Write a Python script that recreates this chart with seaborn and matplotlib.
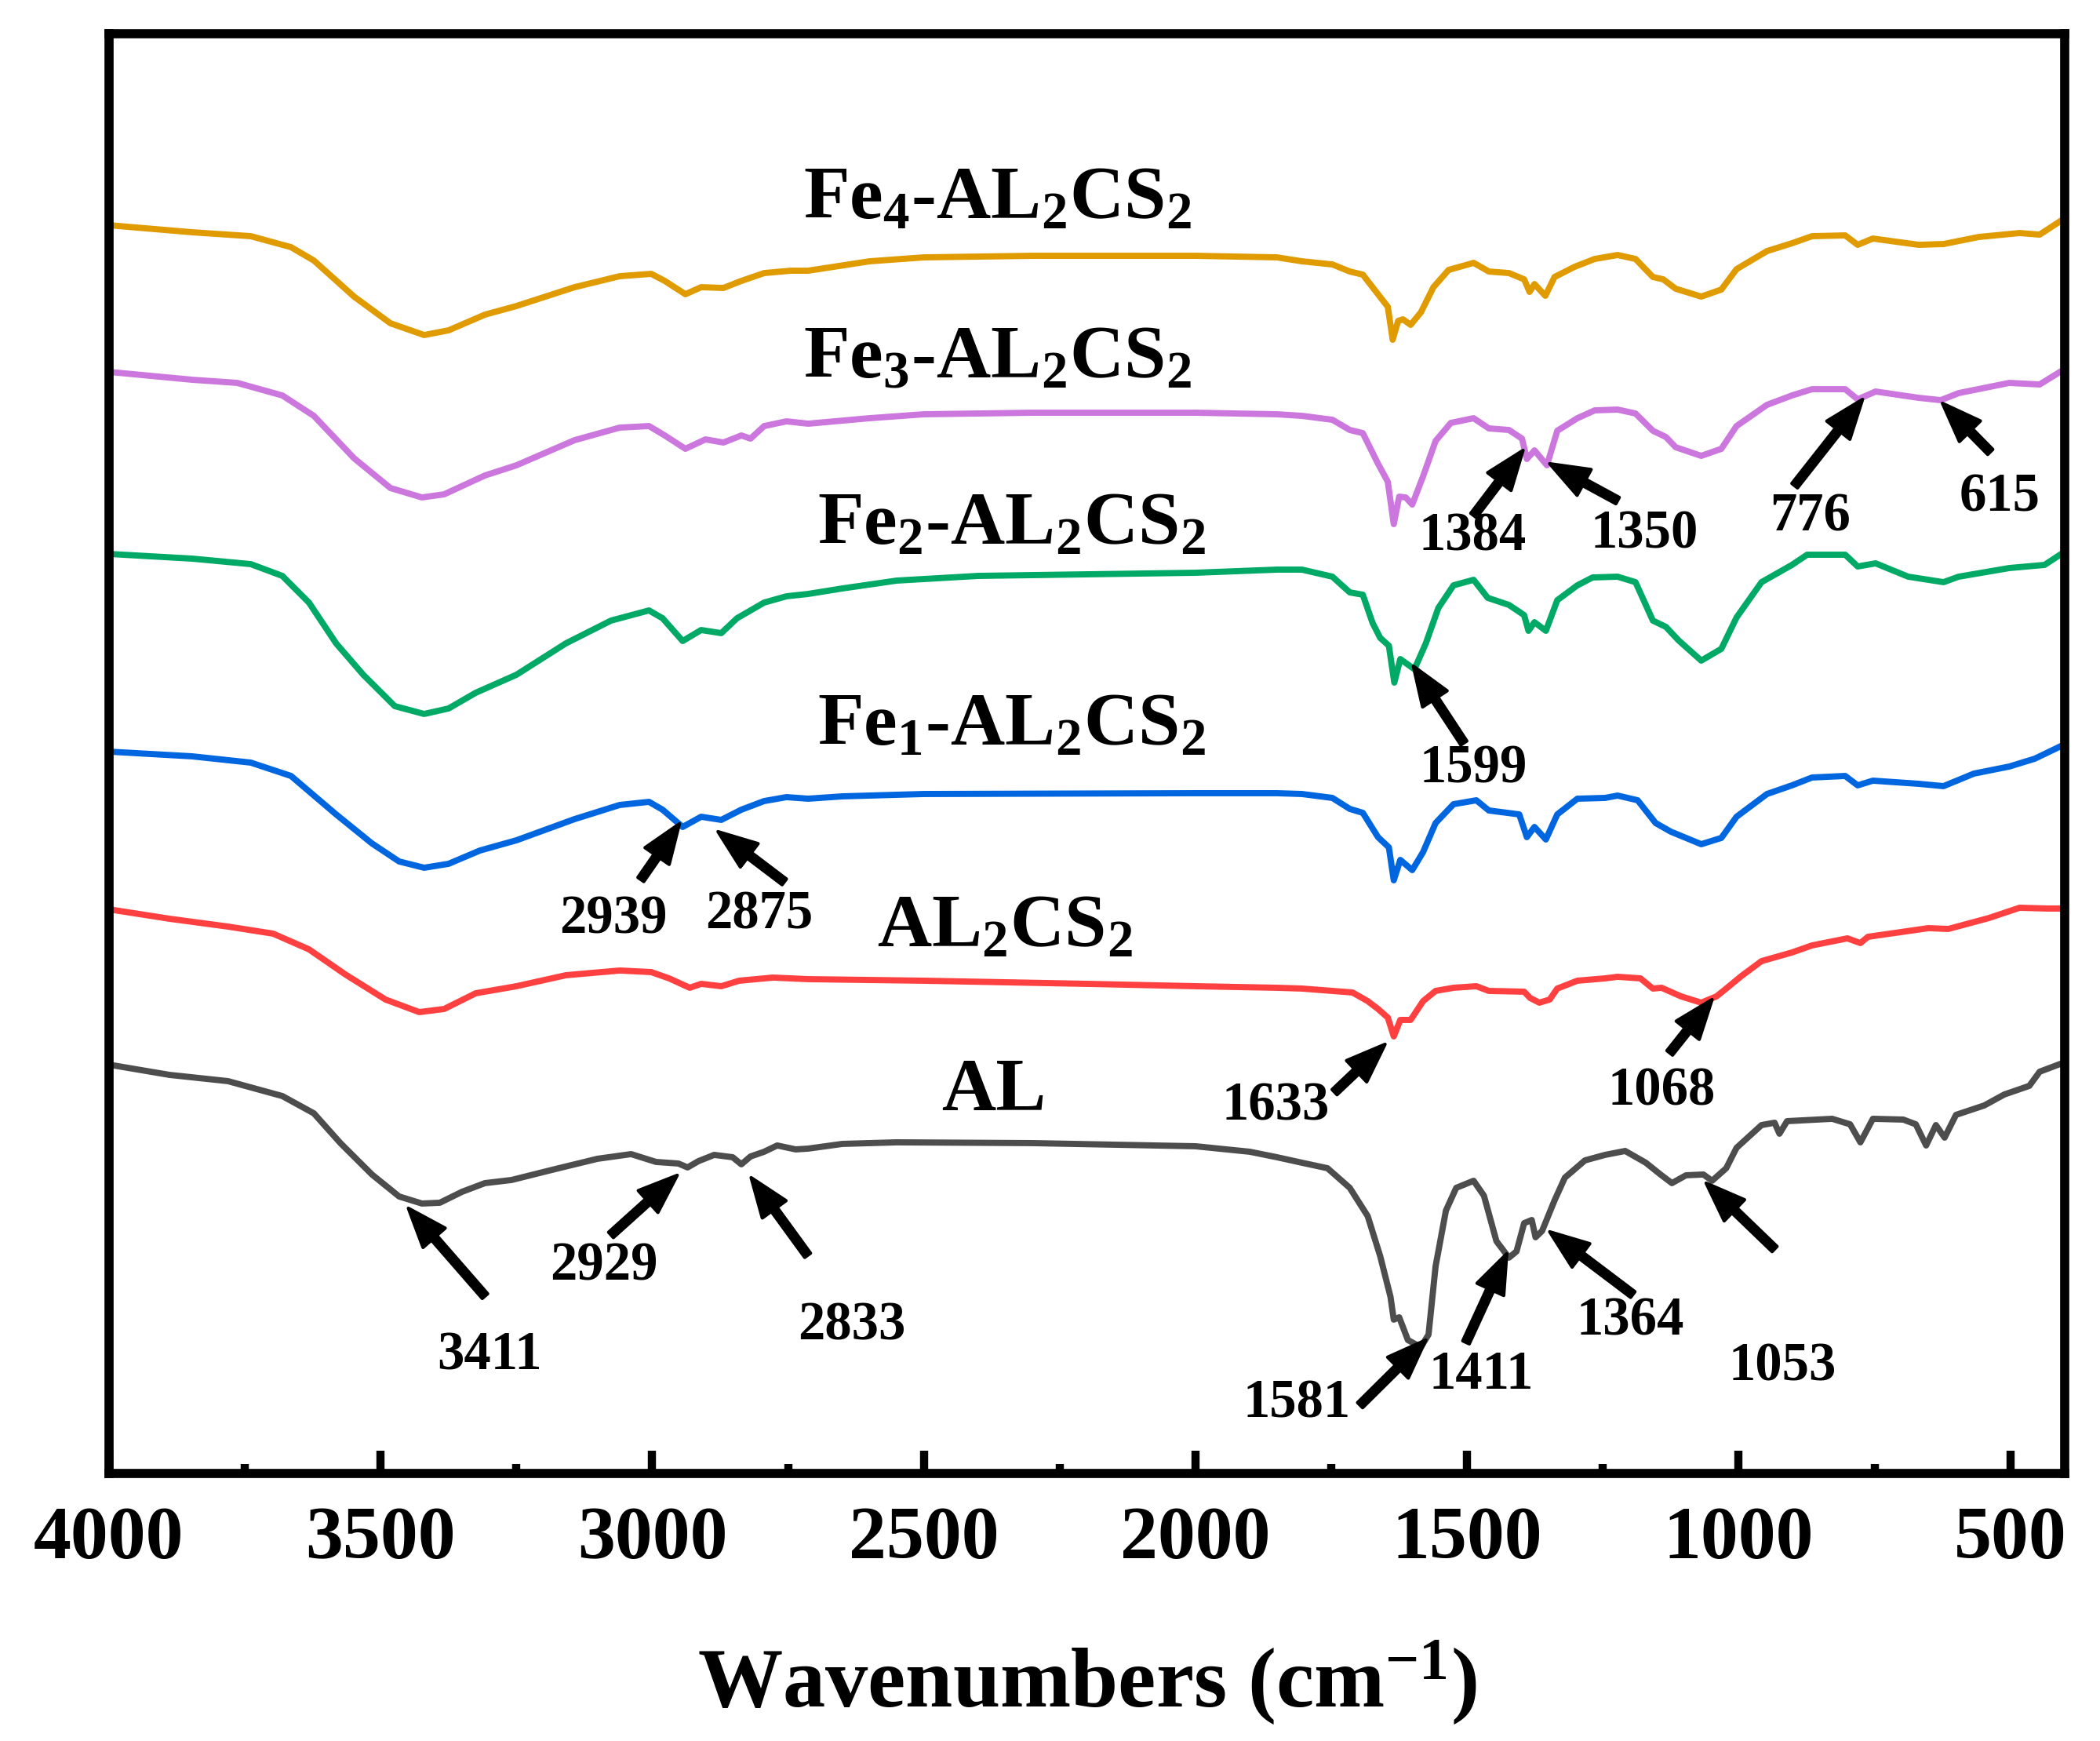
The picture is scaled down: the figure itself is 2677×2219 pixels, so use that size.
import seaborn as sns
import matplotlib.pyplot as plt
import pandas as pd

sns.set_style("ticks")
plt.rcParams["font.family"] = ["Liberation Serif", "DejaVu Serif"]
plt.rcParams["font.weight"] = "bold"
plt.rcParams["mathtext.fontset"] = "custom"
plt.rcParams["mathtext.rm"] = "Liberation Serif:bold"
plt.rcParams["mathtext.it"] = "Liberation Serif:bold"
plt.rcParams["mathtext.bf"] = "Liberation Serif:bold"
plt.rcParams["text.color"] = "black"
plt.rcParams["axes.labelcolor"] = "black"
plt.rcParams["axes.edgecolor"] = "black"
plt.rcParams["xtick.color"] = "black"
plt.rcParams["lines.solid_joinstyle"] = "round"

# ---- spectra (wavenumber, transmittance in a.u., already offset) ----
fe4_wn = [4000, 3847, 3739, 3665, 3623, 3549, 3482, 3420, 3375, 3308, 3250, 3143, 3060, 3002, 2977,
          2939, 2910, 2869, 2836, 2794, 2745, 2713, 2600, 2500, 2300, 2000, 1850, 1804, 1748, 1716,
          1692, 1664, 1646, 1637, 1627, 1618, 1604, 1585, 1562, 1534, 1488, 1460, 1423, 1395, 1385,
          1376, 1356, 1339, 1302, 1265, 1223, 1190, 1158, 1139, 1116, 1069, 1032, 1004, 948, 902,
          865, 804, 781, 753, 669, 623, 558, 483, 446, 404]
fe4_t = [1591, 1582, 1577, 1563, 1546, 1500, 1466, 1451, 1457, 1477, 1488, 1512, 1526, 1529, 1520,
         1503, 1512, 1511, 1520, 1530, 1533, 1533, 1545, 1550, 1552, 1552, 1550, 1545, 1541, 1532,
         1528, 1503, 1487, 1445, 1469, 1471, 1464, 1480, 1512, 1534, 1543, 1532, 1530, 1522, 1506,
         1516, 1501, 1525, 1538, 1548, 1553, 1548, 1525, 1522, 1510, 1500, 1509, 1535, 1558, 1568,
         1577, 1578, 1566, 1574, 1566, 1567, 1576, 1581, 1579, 1598]

fe3_wn = [4000, 3847, 3764, 3681, 3623, 3549, 3482, 3424, 3383, 3308, 3250, 3143, 3060, 3006, 2977,
          2939, 2902, 2869, 2836, 2819, 2794, 2753, 2713, 2600, 2500, 2300, 2000, 1850, 1804, 1748,
          1716, 1692, 1664, 1646, 1635, 1625, 1613, 1601, 1581, 1558, 1530, 1488, 1460, 1423, 1399,
          1390, 1376, 1353, 1334, 1297, 1265, 1223, 1190, 1158, 1134, 1116, 1069, 1032, 1004, 948,
          902, 865, 804, 781, 748, 669, 628, 595, 502, 446, 404]
fe3_t = [1404, 1394, 1390, 1374, 1348, 1294, 1256, 1244, 1248, 1272, 1285, 1317, 1333, 1335, 1323,
         1306, 1318, 1314, 1323, 1319, 1335, 1341, 1338, 1345, 1350, 1352, 1352, 1350, 1348, 1343,
         1330, 1326, 1287, 1264, 1210, 1245, 1244, 1235, 1271, 1316, 1339, 1345, 1332, 1330, 1319,
         1293, 1304, 1285, 1329, 1345, 1355, 1356, 1351, 1329, 1321, 1308, 1297, 1306, 1335, 1362,
         1374, 1382, 1382, 1369, 1379, 1371, 1368, 1377, 1390, 1388, 1406]

fe2_wn = [4000, 3847, 3739, 3681, 3632, 3582, 3532, 3474, 3420, 3375, 3325, 3250, 3159, 3076, 3006,
          2981, 2944, 2910, 2873, 2844, 2794, 2753, 2713, 2650, 2550, 2400, 2000, 1850, 1804, 1748,
          1716, 1692, 1674, 1660, 1644, 1634, 1623, 1609, 1597, 1576, 1553, 1525, 1488, 1462, 1423,
          1395, 1387, 1376, 1355, 1334, 1297, 1269, 1223, 1190, 1158, 1134, 1111, 1069, 1032, 1004,
          958, 902, 874, 804, 781, 748, 688, 623, 595, 502, 437, 404]
fe2_t = [1172, 1166, 1159, 1144, 1110, 1058, 1018, 978, 968, 975, 995, 1018, 1058, 1087, 1100,
         1090, 1061, 1075, 1071, 1090, 1110, 1118, 1121, 1128, 1138, 1144, 1148, 1152, 1152, 1143,
         1123, 1120, 1084, 1065, 1055, 1008, 1038, 1031, 1025, 1058, 1103, 1132, 1139, 1116, 1107,
         1094, 1074, 1085, 1074, 1113, 1132, 1142, 1143, 1136, 1087, 1079, 1062, 1036, 1051, 1091,
         1136, 1158, 1171, 1171, 1156, 1160, 1143, 1136, 1143, 1154, 1158, 1173]

fe1_wn = [4000, 3847, 3739, 3665, 3582, 3516, 3466, 3420, 3375, 3317, 3250, 3143, 3060, 3006, 2981,
          2944, 2910, 2873, 2836, 2794, 2753, 2713, 2650, 2500, 2000, 1850, 1804, 1748, 1716, 1692,
          1664, 1644, 1635, 1623, 1601, 1581, 1558, 1525, 1483, 1460, 1404, 1390, 1376, 1355, 1334,
          1297, 1246, 1223, 1186, 1153, 1125, 1069, 1032, 1004, 948, 902, 865, 804, 781, 753,
          669, 623, 567, 502, 455, 404]
fe1_t = [920, 914, 906, 889, 840, 803, 780, 772, 777, 794, 807, 834, 852, 856, 846,
         824, 837, 833, 846, 857, 862, 860, 863, 866, 867, 867, 866, 861, 847, 842,
         811, 798, 756, 782, 769, 792, 829, 853, 858, 845, 840, 811, 824, 808, 840,
         860, 861, 864, 858, 829, 818, 802, 810, 837, 866, 877, 887, 889, 877, 883,
         879, 876, 892, 901, 911, 928]

al2cs2_wn = [4000, 3889, 3781, 3698, 3632, 3565, 3491, 3429, 3383, 3325, 3250, 3159, 3060, 3002, 2969,
             2931, 2910, 2873, 2840, 2778, 2713, 2500, 2200, 2000, 1850, 1804, 1711, 1683, 1664, 1646,
             1635, 1623, 1604, 1581, 1558, 1525, 1483, 1460, 1395, 1384, 1367, 1348, 1334, 1297, 1246,
             1223, 1181, 1158, 1142, 1106, 1069, 1041, 1023, 995, 958, 902, 865, 800, 776, 762,
             651, 614, 539, 483, 432, 404]
al2cs2_t = [719, 707, 697, 688, 668, 636, 604, 588, 592, 612, 621, 635, 641, 639, 631,
            619, 624, 621, 628, 632, 630, 628, 624, 621, 619, 618, 613, 602, 592, 581,
            557, 578, 578, 602, 615, 619, 621, 615, 614, 606, 600, 604, 618, 628, 631,
            633, 631, 618, 619, 608, 600, 608, 618, 634, 653, 664, 673, 682, 676, 684,
            695, 694, 708, 721, 720, 720]

al_wn = [4000, 3889, 3781, 3681, 3623, 3574, 3516, 3466, 3424, 3391, 3350, 3308, 3259, 3184, 3101,
         3039, 2993, 2952, 2935, 2915, 2886, 2852, 2836, 2819, 2794, 2770, 2736, 2713, 2650, 2550,
         2300, 2000, 1900, 1850, 1804, 1757, 1716, 1683, 1660, 1641, 1635, 1625, 1609, 1585, 1571,
         1558, 1539, 1520, 1488, 1469, 1446, 1423, 1409, 1395, 1381, 1374, 1362, 1339, 1320, 1283,
         1246, 1209, 1171, 1144, 1123, 1097, 1065, 1049, 1023, 1004, 958, 934, 925, 911, 828,
         795, 776, 753, 697, 674, 655, 637, 621, 600, 548, 511, 465, 446, 404]
al_t = [521, 508, 500, 481, 459, 421, 381, 353, 344, 345, 359, 370, 374, 387, 401,
        407, 397, 395, 390, 398, 406, 403, 394, 404, 410, 418, 413, 414, 420, 422,
        421, 417, 410, 403, 396, 389, 364, 328, 277, 225, 196, 199, 170, 161, 177,
        264, 335, 364, 373, 354, 296, 275, 283, 319, 323, 301, 309, 348, 377, 399,
        406, 411, 396, 381, 370, 380, 381, 373, 389, 415, 444, 447, 433, 449, 452,
        445, 422, 452, 451, 445, 418, 444, 428, 457, 469, 483, 494, 512, 523]

names = ["Fe4", "Fe3", "Fe2", "Fe1", "AL2CS2", "AL"]
colors = ["#E09B00", "#CC77DD", "#00AA66", "#0066E0", "#FF4040", "#4D4D4D"]
curve_wn = [fe4_wn, fe3_wn, fe2_wn, fe1_wn, al2cs2_wn, al_wn]
curve_t = [fe4_t, fe3_t, fe2_t, fe1_t, al2cs2_t, al_t]

# curve titles
title_text = [r"Fe$_{4}$-AL$_{2}$CS$_{2}$", r"Fe$_{3}$-AL$_{2}$CS$_{2}$", r"Fe$_{2}$-AL$_{2}$CS$_{2}$",
              r"Fe$_{1}$-AL$_{2}$CS$_{2}$", r"AL$_{2}$CS$_{2}$", "AL"]
title_pos = [(2364, 1622), (2364, 1420), (2339, 1207), (2339, 951), (2351, 694), (2371, 486)]

# peak labels: text, text position, arrow tail, arrow head
peak_text = ["3411", "2929", "2833", "2939", "2875", "1633", "1068", "1581", "1411", "1364",
             "1053", "1384", "1350", "776", "615", "1599"]
peak_pos = [(3300, 149), (3089, 263), (2633, 187), (3072, 705), (2803, 711), (1853, 467),
            (1142, 486), (1814, 88), (1474, 125), (1199, 193), (919, 135), (1490, 1194),
            (1173, 1197), (869, 1219), (519, 1244), (1488, 897)]
arrow_tail = [(3308, 226), (3076, 304), (2714, 278), (3021, 757), (2757, 754), (1744, 486),
              (1127, 536), (1697, 87), (1502, 167), (1195, 228), (934, 286), (1488, 1221),
              (1223, 1240), (897, 1259), (537, 1302), (1506, 931)]
arrow_head = [(3449, 338), (2954, 380), (2818, 377), (2950, 828), (2879, 818), (1651, 547),
              (1049, 604), (1576, 170), (1427, 280), (1348, 308), (1060, 370), (1397, 1304),
              (1348, 1287), (772, 1369), (625, 1364), (1599, 1029)]

frames = []
for n, w, t in zip(names, curve_wn, curve_t):
    frames.append(pd.DataFrame({"wavenumber": w, "T": t, "sample": n}))
df = pd.concat(frames, ignore_index=True)

fig = plt.figure(figsize=(2678 / 300, 2219 / 300), dpi=300)
ax = fig.add_axes([0.0519, 0.1537, 0.9309, 0.8269])

sns.lineplot(data=df, x="wavenumber", y="T", hue="sample", palette=dict(zip(names, colors)),
             estimator=None, sort=False, linewidth=1.9, legend=False, ax=ax)

ax.set_xlim(4000, 400)
ax.set_ylim(0, 1835)

for txt, (x, y) in zip(title_text, title_pos):
    ax.text(x, y, txt, ha="center", va="center", fontsize=23, fontweight="bold")

for txt, (x, y) in zip(peak_text, peak_pos):
    ax.text(x, y, txt, ha="center", va="center", fontsize=16.5, fontweight="bold")

for tail, head in zip(arrow_tail, arrow_head):
    ax.annotate("", xy=head, xytext=tail,
                arrowprops=dict(facecolor="black", edgecolor="black", width=2.2,
                                headwidth=9, headlength=12, shrink=0))

# axes styling
ax.set_xticks([4000, 3500, 3000, 2500, 2000, 1500, 1000, 500])
ax.set_xticks([3750, 3250, 2750, 2250, 1750, 1250, 750], minor=True)
ax.tick_params(axis="x", which="major", direction="in", length=7, width=2.5,
               labelsize=23, pad=10, top=False, colors="black")
ax.tick_params(axis="x", which="minor", direction="in", length=3, width=2.5, top=False)
ax.tick_params(axis="y", left=False, labelleft=False)
for lbl in ax.get_xticklabels():
    lbl.set_fontweight("bold")
for s in ax.spines.values():
    s.set_linewidth(2.8)
    s.set_color("black")
    s.set_visible(True)

ax.set_ylabel("")
ax.set_xlabel(r"Wavenumbers (cm$^{\mathbf{-1}}$)", fontsize=26, fontweight="bold", labelpad=20)

fig.savefig("out.png", dpi=300)
